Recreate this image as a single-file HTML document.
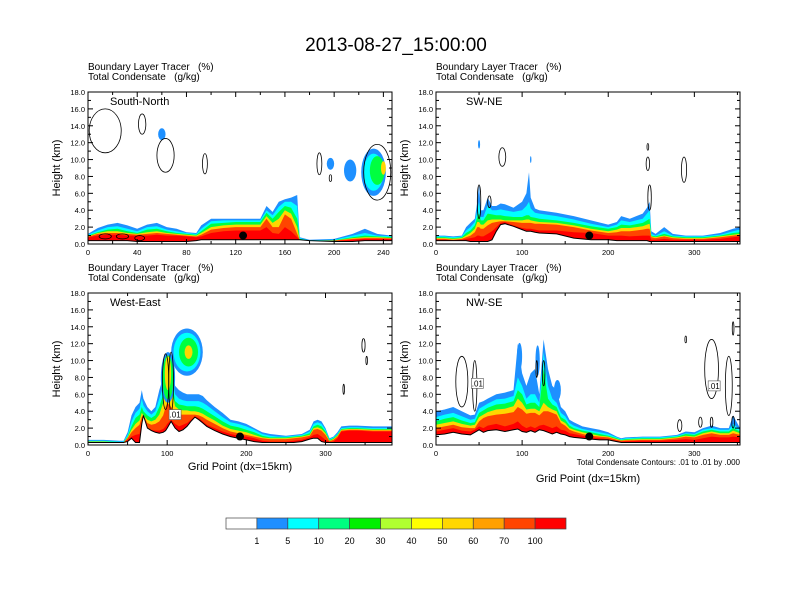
<!DOCTYPE html>
<html><head><meta charset="utf-8"><style>
body{margin:0;background:#fff;}
svg{display:block;font-family:"Liberation Sans",sans-serif;}
text{white-space:pre;}
</style></head><body>
<svg id="c" width="792" height="612" viewBox="0 0 792 612">
<text x="396" y="51" text-anchor="middle" font-size="19">2013-08-27_15:00:00</text>
</svg>
<script>
// ---------- data ----------
const levelNames = ["1","5","20","50","70","100"];
const levelColors = ["#1E90FF","#00FFFF","#00FF40","#FFD700","#FF4500","#FF0000"];
const barLabels = ["1","5","10","20","30","40","50","60","70","100"];
const barColors = ["#FFFFFF","#1E8FFF","#00FFFF","#00FF80","#00F000","#B0FF30","#FFFF00","#FFD700","#FFA000","#FF4500","#FF0000"];

// South-North
const snX = [0,8,16,24,32,40,48,56,64,72,80,88,92,100,110,120,130,140,145,150,155,160,165,170,172,180,200,215,225,235,247];
const snGround = [0.4,0.4,0.4,0.4,0.4,0.3,0.3,0.3,0.3,0.3,0.3,0.4,0.5,0.5,0.5,0.5,0.5,0.5,0.5,0.5,0.5,0.5,0.5,0.5,0.5,0.4,0.3,0.3,0.4,0.4,0.4];
const snL1 = [1.2,1.9,2.3,2.5,2.2,1.8,2.3,2.5,2.0,1.8,1.4,1.3,2.2,3.0,3.0,3.0,3.0,3.0,4.5,3.8,5.0,5.3,5.5,5.8,0.8,0.5,0.6,1.2,1.8,1.2,1.0];
const snL5 = [1.1,1.6,2.0,2.1,1.8,1.5,2.0,2.1,1.7,1.5,1.3,1.2,1.8,2.7,2.8,2.8,2.8,2.8,4.0,3.4,4.4,5.0,5.0,4.5,0.7,0.45,0.5,1.0,1.3,1.0,0.9];
const snL20 = [1.0,1.4,1.7,1.8,1.5,1.3,1.7,1.8,1.5,1.3,1.2,1.1,1.5,2.4,2.5,2.6,2.6,2.6,3.7,3.0,3.8,4.5,4.3,3.0,0.6,0.4,0.45,0.8,1.0,0.9,0.8];
const snL50 = [0.9,1.3,1.5,1.5,1.3,1.2,1.4,1.5,1.3,1.2,1.1,1.0,1.3,2.0,2.2,2.3,2.3,2.3,3.3,2.5,3.0,4.0,3.6,2.0,0.5,0.4,0.4,0.7,0.8,0.8,0.7];
const snL70 = [0.85,1.2,1.3,1.3,1.2,1.1,1.2,1.3,1.2,1.1,1.0,0.9,1.1,1.7,1.9,2.0,2.0,2.0,3.0,2.0,2.0,3.5,3.0,1.2,0.45,0.35,0.4,0.6,0.7,0.7,0.65];
const snL100 = [0.8,1.0,1.1,1.1,1.0,1.0,1.0,1.1,1.0,1.0,0.9,0.8,0.9,1.3,1.5,1.6,1.6,1.6,2.0,1.3,1.2,2.0,1.5,0.8,0.4,0.33,0.35,0.5,0.6,0.6,0.6];
const snBlobX = [60,197,213,232,232,235,240];
const snBlobY = [13,9.5,8.7,8.5,8.5,8.7,9.0];
const snBlobRx = [3,3,5,10,8,6,2];
const snBlobRy = [0.7,0.7,1.3,2.8,2.2,1.7,0.8];
const snBlobLvl = [0,0,0,0,1,2,3];
const snCtX = [14,63,44,95,188,197,235,14,28,42];
const snCtY = [13.4,10.5,14.2,9.5,9.5,7.8,8.5,0.9,0.9,0.7];
const snCtRx = [13,7,3,2,2,1,11,5,5,4];
const snCtRy = [2.6,2,1.2,1.2,1.3,0.4,3.3,0.3,0.3,0.3];

// SW-NE
const swX = [0,10,20,30,35,40,45,48,50,52,55,60,65,70,75,80,90,100,105,108,110,115,120,140,160,180,200,210,215,225,240,245,248,250,255,265,275,290,310,330,345,353];
const swGround = [0.4,0.4,0.4,0.4,0.4,0.3,0.3,0.3,0.3,0.3,0.3,0.3,0.5,1.5,2.3,2.4,2.1,1.7,1.5,1.5,1.5,1.4,1.3,1.2,0.7,0.5,0.5,0.4,0.4,0.4,0.4,0.4,0.3,0.3,0.3,0.3,0.3,0.3,0.3,0.3,0.3,0.3];
const swL1 = [1.0,1.0,0.9,1.0,2.0,2.5,3.0,5.0,7.0,4.0,4.0,5.5,4.5,4.5,4.8,4.7,4.3,5.0,6.0,8.5,5.5,4.2,4.0,3.7,3.3,2.8,2.3,2.6,3.3,3.0,3.6,4.3,5.0,1.5,1.2,2.0,1.2,1.0,1.0,1.3,1.8,2.0];
const swL5 = [0.9,0.9,0.8,0.9,1.6,2.0,2.6,4.0,5.0,3.2,3.2,4.6,4.0,4.0,4.1,4.0,3.8,4.0,4.5,5.0,4.2,3.7,3.6,3.3,2.9,2.4,2.0,2.3,2.8,2.6,3.0,3.6,4.0,1.2,1.0,1.5,1.0,0.9,0.9,1.1,1.5,1.7];
const swL20 = [0.8,0.8,0.7,0.8,1.3,1.6,2.2,3.2,3.6,2.8,2.8,3.6,3.5,3.4,3.4,3.3,3.2,3.2,3.4,3.4,3.2,3.1,3.0,2.8,2.5,2.1,1.8,2.0,2.3,2.2,2.5,2.8,3.0,1.0,0.9,1.2,0.9,0.8,0.8,1.0,1.3,1.4];
const swL50 = [0.7,0.7,0.6,0.7,1.0,1.3,1.8,2.6,2.6,2.3,2.3,2.8,2.9,2.9,2.9,2.8,2.8,2.8,2.9,2.9,2.8,2.7,2.6,2.5,2.2,1.8,1.5,1.7,1.9,1.9,2.1,2.3,2.4,0.9,0.8,1.0,0.8,0.7,0.7,0.9,1.1,1.2];
const swL70 = [0.6,0.6,0.5,0.6,0.8,1.0,1.4,2.0,2.0,1.8,1.8,2.2,2.5,2.6,2.7,2.7,2.6,2.5,2.5,2.5,2.5,2.4,2.4,2.3,2.0,1.6,1.3,1.4,1.5,1.5,1.7,1.8,1.8,0.8,0.7,0.9,0.7,0.6,0.6,0.8,1.0,1.1];
const swL100 = [0.5,0.5,0.45,0.5,0.6,0.7,0.8,1.0,1.0,0.9,0.9,1.2,1.5,2.0,2.5,2.6,2.2,1.9,1.8,1.8,1.8,1.7,1.6,1.6,1.4,1.3,1.0,1.0,1.0,0.9,1.0,1.0,1.0,0.5,0.5,0.6,0.5,0.5,0.5,0.6,0.8,0.9];
const swBlobX = [50,110];
const swBlobY = [11.8,10];
const swBlobRx = [1.2,0.8];
const swBlobRy = [0.5,0.4];
const swBlobLvl = [0,0];
const swCtX = [77,246,246,288,248,50,62];
const swCtY = [10.3,11.5,9.5,8.8,5.5,5,5];
const swCtRx = [4,1,2,3,2,2,2];
const swCtRy = [1.1,0.4,0.8,1.5,1.5,2,0.7];

// West-East
const weX = [0,20,40,45,50,55,60,65,68,70,75,80,85,90,95,98,100,105,110,115,120,125,130,135,140,145,150,160,170,180,190,200,210,220,230,240,250,260,270,280,285,290,295,300,305,310,315,320,330,340,360,384];
const weGround = [0.3,0.3,0.3,0.3,0.4,0.8,0.3,0.3,2.5,3.5,2.0,1.7,1.5,1.4,1.5,1.7,2.0,2.8,2.0,1.6,1.8,2.2,2.8,3.3,3.0,2.6,2.2,1.7,1.3,1.0,0.8,0.6,0.4,0.3,0.3,0.3,0.3,0.3,0.4,0.7,0.8,0.8,0.4,0.3,0.3,0.3,0.3,0.3,0.3,0.3,0.3,0.3];
const weL1 = [0.6,0.6,0.5,0.5,1.5,3.5,4.5,5.0,6.5,5.5,4.5,4.0,4.5,6.5,8.0,10.5,11.0,10.0,7.0,6.5,6.2,6.0,6.0,6.0,6.0,5.8,5.3,4.5,3.8,3.0,2.8,2.5,2.0,1.5,1.3,1.2,1.1,1.2,1.3,1.8,2.8,3.0,2.8,2.0,0.8,1.0,1.5,2.2,2.3,2.3,2.2,2.2];
const weL5 = [0.5,0.5,0.4,0.4,1.2,2.8,3.8,4.3,5.5,4.7,4.0,3.6,4.0,5.5,7.0,9.5,10.0,9.0,6.0,5.5,5.3,5.2,5.2,5.2,5.2,5.0,4.7,4.0,3.3,2.7,2.5,2.2,1.8,1.3,1.1,1.0,1.0,1.1,1.2,1.6,2.5,2.7,2.5,1.8,0.7,0.9,1.3,2.0,2.1,2.1,2.0,2.0];
const weL20 = [0.45,0.45,0.35,0.35,1.0,2.2,3.2,3.6,4.5,4.0,3.5,3.2,3.5,4.5,6.0,8.5,9.0,8.0,5.2,4.8,4.7,4.6,4.6,4.6,4.5,4.3,4.0,3.4,2.8,2.3,2.1,1.8,1.5,1.1,0.9,0.9,0.9,1.0,1.1,1.4,2.2,2.4,2.2,1.6,0.6,0.8,1.2,1.9,2.0,2.0,1.9,1.9];
const weL50 = [0.4,0.4,0.3,0.3,0.9,1.8,2.5,2.9,3.8,3.4,3.0,2.8,3.0,3.6,5.0,7.5,8.0,7.0,4.6,4.2,4.1,4.1,4.0,4.0,3.9,3.7,3.4,2.9,2.3,1.9,1.7,1.5,1.2,0.9,0.8,0.8,0.8,0.9,1.0,1.2,2.0,2.1,1.9,1.4,0.5,0.7,1.1,1.8,1.9,1.9,1.8,1.8];
const weL70 = [0.35,0.35,0.3,0.3,0.8,1.5,2.0,2.4,3.3,3.0,2.6,2.4,2.5,2.8,3.5,4.5,5.0,4.5,4.0,3.6,3.6,3.6,3.6,3.6,3.5,3.3,3.0,2.5,2.0,1.6,1.4,1.2,1.0,0.8,0.7,0.7,0.7,0.8,0.9,1.1,1.8,1.9,1.7,1.2,0.45,0.6,1.0,1.7,1.8,1.8,1.7,1.7];
const weL100 = [0.32,0.32,0.3,0.3,0.6,1.0,1.2,1.3,2.8,2.5,2.0,1.8,1.7,1.7,1.9,2.2,2.5,3.0,2.5,2.2,2.4,2.6,3.0,3.4,3.2,2.8,2.4,2.0,1.6,1.3,1.1,1.0,0.8,0.5,0.4,0.4,0.4,0.5,0.6,0.9,1.2,1.3,1.0,0.6,0.35,0.4,0.8,1.6,1.7,1.7,1.6,1.6];
const weBlobX = [125,125,127,127,101,101,101];
const weBlobY = [11,11,11,11,8,8,8.5];
const weBlobRx = [20,17,12,5,9,7,4];
const weBlobRy = [2.8,2.3,1.7,0.8,3,2.6,2];
const weBlobLvl = [0,1,2,3,0,2,3];
const weCtX = [98,105,348,352,323];
const weCtY = [7.5,7.5,11.8,10,6.6];
const weCtRx = [4,3,2,1,1];
const weCtRy = [3.3,3.5,0.8,0.5,0.6];

// NW-SE
const nwX = [0,10,20,30,40,45,50,55,60,70,80,90,95,100,105,110,115,120,125,130,135,140,145,150,155,160,170,180,190,200,210,215,220,240,260,280,290,300,310,320,330,340,345,353];
const nwGround = [1.2,1.3,1.5,1.3,1.2,1.5,1.8,1.5,1.7,1.8,1.6,1.8,1.9,1.6,1.5,1.7,1.5,1.8,1.7,1.5,1.3,1.5,1.3,1.2,1.0,0.9,0.8,0.7,0.6,0.6,0.4,0.3,0.3,0.3,0.3,0.3,0.3,0.3,0.3,0.3,0.3,0.3,0.3,0.3];
const nwL1 = [4.0,4.2,4.5,4.0,3.5,3.6,5.0,5.2,5.5,6.0,6.2,6.5,12.0,8.5,7.0,8.5,9.0,6.0,12.5,9.0,7.0,6.5,4.5,4.0,3.0,2.7,2.2,2.0,1.8,1.5,1.0,0.8,0.9,1.0,1.0,1.2,1.6,1.5,2.0,2.3,2.0,2.0,3.5,2.0];
const nwL5 = [3.3,3.6,3.8,3.4,3.0,3.1,4.3,4.6,4.9,5.4,5.5,5.8,8.0,7.0,5.5,6.0,6.0,5.0,11.0,7.0,5.5,5.0,3.8,3.4,2.6,2.3,1.9,1.7,1.5,1.3,0.9,0.7,0.8,0.9,0.9,1.1,1.4,1.3,1.8,2.0,1.8,1.8,2.5,1.8];
const nwL20 = [2.8,3.1,3.3,2.9,2.6,2.7,3.8,4.1,4.4,4.8,4.9,5.2,6.5,6.0,4.8,5.0,5.0,4.5,9.0,5.5,4.8,4.5,3.3,3.0,2.3,2.0,1.7,1.5,1.3,1.1,0.8,0.6,0.7,0.8,0.8,1.0,1.3,1.2,1.6,1.8,1.6,1.6,2.0,1.6];
const nwL50 = [2.4,2.6,2.8,2.5,2.3,2.4,3.3,3.6,3.9,4.2,4.3,4.6,5.5,5.0,4.2,4.3,4.3,4.0,5.0,4.5,4.2,4.0,2.9,2.6,2.0,1.8,1.5,1.3,1.1,1.0,0.7,0.55,0.6,0.7,0.7,0.9,1.1,1.0,1.4,1.6,1.4,1.4,1.7,1.4];
const nwL70 = [2.0,2.2,2.4,2.1,2.0,2.0,2.8,3.2,3.4,3.6,3.7,3.9,4.5,4.2,3.7,3.8,3.8,3.5,4.0,4.0,3.8,3.6,2.6,2.3,1.8,1.6,1.3,1.1,1.0,0.9,0.6,0.5,0.55,0.6,0.6,0.8,1.0,0.9,1.2,1.4,1.2,1.2,1.4,1.2];
const nwL100 = [1.6,1.8,2.0,1.7,1.6,1.8,2.2,2.0,2.3,2.5,2.2,2.5,2.8,2.3,2.0,2.2,2.0,2.3,2.4,2.2,2.0,2.2,1.8,1.7,1.4,1.3,1.1,0.9,0.8,0.7,0.5,0.4,0.45,0.5,0.5,0.6,0.7,0.6,0.8,1.0,0.9,0.9,1.0,0.9];
const nwBlobX = [141,97,118];
const nwBlobY = [6.5,10.5,10];
const nwBlobRx = [4,3,2.5];
const nwBlobRy = [1.2,1.6,1.8];
const nwBlobLvl = [0,0,0];
const nwCtX = [30,45,117,125,290,320,340,345,283,307,320,345];
const nwCtY = [7.5,7,9,8.5,12.5,9,7,13.8,2.3,2.7,2.7,2.7];
const nwCtRx = [7,2.5,1,1.5,1,8,4,1,2.5,2,1.5,1.5];
const nwCtRy = [3,3,1,1.5,0.4,3.5,3.5,0.8,0.7,0.6,0.6,0.7];

// ---------- drawing ----------
const svg = document.getElementById('c');
const NS = 'http://www.w3.org/2000/svg';
function mk(tag, attrs, parent){const e=document.createElementNS(NS,tag);for(const k in attrs)e.setAttribute(k,attrs[k]);(parent||svg).appendChild(e);return e;}

const panels = [
 {key:'south-north',title:'South-North',x0:88,y0:92,xmax:247,xt:[0,40,80,120,160,200,240],xminor:20,xs:snX,g:snGround,L:[snL1,snL5,snL20,snL50,snL70,snL100],bx:snBlobX,by:snBlobY,brx:snBlobRx,bry:snBlobRy,bl:snBlobLvl,cx:snCtX,cy:snCtY,crx:snCtRx,cry:snCtRy,dot:[126,1.0],boxes:[]},
 {key:'sw-ne',title:'SW-NE',x0:436,y0:92,xmax:353,xt:[0,100,200,300],xminor:50,xs:swX,g:swGround,L:[swL1,swL5,swL20,swL50,swL70,swL100],bx:swBlobX,by:swBlobY,brx:swBlobRx,bry:swBlobRy,bl:swBlobLvl,cx:swCtX,cy:swCtY,crx:swCtRx,cry:swCtRy,dot:[178,1.0],boxes:[]},
 {key:'west-east',title:'West-East',x0:88,y0:293,xmax:384,xt:[0,100,200,300],xminor:50,xs:weX,g:weGround,L:[weL1,weL5,weL20,weL50,weL70,weL100],bx:weBlobX,by:weBlobY,brx:weBlobRx,bry:weBlobRy,bl:weBlobLvl,cx:weCtX,cy:weCtY,crx:weCtRx,cry:weCtRy,dot:[192,1.0],boxes:[[110,3.6]]},
 {key:'nw-se',title:'NW-SE',x0:436,y0:293,xmax:353,xt:[0,100,200,300],xminor:50,xs:nwX,g:nwGround,L:[nwL1,nwL5,nwL20,nwL50,nwL70,nwL100],bx:nwBlobX,by:nwBlobY,brx:nwBlobRx,bry:nwBlobRy,bl:nwBlobLvl,cx:nwCtX,cy:nwCtY,crx:nwCtRx,cry:nwCtRy,dot:[178,1.0],boxes:[[48,7.3],[323,7.0]]}
];
const W=304,H=152,YMAX=18;

panels.forEach(p=>{
  const sx=v=>p.x0+v/p.xmax*W, sy=h=>p.y0+H-h/YMAX*H;
  const g=mk('g',{});
  
  
  const t1=mk('text',{x:p.x0,y:p.y0-22,'font-size':10},g); t1.textContent='Boundary Layer Tracer   (%)';
  
  
  const t2=mk('text',{x:p.x0,y:p.y0-12,'font-size':10},g); t2.textContent='Total Condensate   (g/kg)';
  
  
  const clipId='clip-'+p.key;
  const cp=mk('clipPath',{id:clipId},g); mk('rect',{x:p.x0,y:p.y0,width:W,height:H},cp);
  const plot=mk('g',{'clip-path':'url(#'+clipId+')'},g);
  
  
  p.L.forEach((arr,li)=>{
    const n=Math.min(arr.length,p.xs.length,p.g.length);
    let d='';
    for(let i=0;i<n;i++){d+=(i?'L':'M')+sx(p.xs[i]).toFixed(1)+','+sy(Math.max(arr[i],p.g[i])).toFixed(1);}
    for(let i=n-1;i>=0;i--){d+='L'+sx(p.xs[i]).toFixed(1)+','+sy(p.g[i]).toFixed(1);}
    const band=mk('path',{d:d+'Z',fill:levelColors[li]},plot);
    
    
  });
  for(let i=0;i<p.bx.length;i++){
    const b=mk('ellipse',{cx:sx(p.bx[i]),cy:sy(p.by[i]),rx:p.brx[i]/p.xmax*W,ry:p.bry[i]/YMAX*H,fill:levelColors[p.bl[i]]},plot);
    
    
  }
  let td='';
  for(let i=0;i<p.xs.length;i++){td+=(i?'L':'M')+sx(p.xs[i]).toFixed(1)+','+sy(p.g[i]).toFixed(1);}
  const tl=mk('path',{d:td,fill:'none',stroke:'#000','stroke-width':1},plot);
  
  
  for(let i=0;i<p.cx.length;i++){
    const c=mk('ellipse',{cx:sx(p.cx[i]),cy:sy(p.cy[i]),rx:p.crx[i]/p.xmax*W,ry:p.cry[i]/YMAX*H,fill:'none',stroke:'#000','stroke-width':0.8},plot);
    
    
  }
  p.boxes.forEach(bp=>{
    const bx=mk('rect',{x:sx(bp[0])-6,y:sy(bp[1])-5,width:12,height:10,fill:'#fff',stroke:'#555','stroke-width':0.6},plot);
    
    
    const bt=mk('text',{x:sx(bp[0]),y:sy(bp[1])+3,'font-size':8,'text-anchor':'middle'},plot); bt.textContent='.01';
    
    
  });
  const dot=mk('circle',{cx:sx(p.dot[0]),cy:sy(p.dot[1]),r:4,fill:'#000'},plot);
  
  
  const lab=mk('text',{x:p.x0+(p.key==='sw-ne'||p.key==='nw-se'?30:22),y:p.y0+13,'font-size':11},g);
  lab.textContent=p.title;
  
  
  const fr=mk('rect',{x:p.x0,y:p.y0,width:W,height:H,fill:'none',stroke:'#000','stroke-width':1},g);
  
  
  for(let h=0;h<=18;h+=2){
    const y=sy(h);
    mk('line',{x1:p.x0,x2:p.x0+5,y1:y,y2:y,stroke:'#000'},g);
    mk('line',{x1:p.x0+W,x2:p.x0+W-5,y1:y,y2:y,stroke:'#000'},g);
    if(h<18){const ym=sy(h+1);mk('line',{x1:p.x0,x2:p.x0+3,y1:ym,y2:ym,stroke:'#000'},g);mk('line',{x1:p.x0+W,x2:p.x0+W-3,y1:ym,y2:ym,stroke:'#000'},g);}
    const tt=mk('text',{x:p.x0-3,y:y+3,'font-size':7.5,'text-anchor':'end'},g); tt.textContent=h.toFixed(1);
    
    
  }
  for(let v=0;v<=p.xmax;v+=p.xminor){
    const x=sx(v); const major=p.xt.indexOf(v)>=0; const L=major?5:3;
    mk('line',{x1:x,x2:x,y1:p.y0+H,y2:p.y0+H-L,stroke:'#000'},g);
    mk('line',{x1:x,x2:x,y1:p.y0,y2:p.y0+L,stroke:'#000'},g);
  }
  p.xt.forEach(v=>{
    const tt=mk('text',{x:sx(v),y:p.y0+H+11,'font-size':7.5,'text-anchor':'middle'},g); tt.textContent=v;
    
    
  });
  const yt=mk('text',{x:0,y:0,'font-size':11,'text-anchor':'middle',transform:'translate('+(p.x0-28)+','+(p.y0+H/2)+') rotate(-90)'},g);
  yt.textContent='Height (km)';
  
  
});

const xa1=mk('text',{x:240,y:470,'font-size':11,'text-anchor':'middle'}); xa1.textContent='Grid Point (dx=15km)';


const xa2=mk('text',{x:588,y:482,'font-size':11,'text-anchor':'middle'}); xa2.textContent='Grid Point (dx=15km)';


const fn=mk('text',{x:740,y:465,'font-size':8,'text-anchor':'end'}); fn.textContent='Total Condensate Contours: .01 to .01 by .000';



const cbx0=226, cbw=340, cby=518, cbh=11, bw=cbw/barColors.length;
barColors.forEach((c,i)=>{
  const r=mk('rect',{x:cbx0+i*bw,y:cby,width:bw,height:cbh,fill:c,stroke:'#444','stroke-width':0.7});
  
  
});
barLabels.forEach((l,i)=>{
  const t=mk('text',{x:cbx0+(i+1)*bw,y:cby+26,'font-size':9,'text-anchor':'middle'}); t.textContent=l;
  
  
});
</script>
</body></html>
